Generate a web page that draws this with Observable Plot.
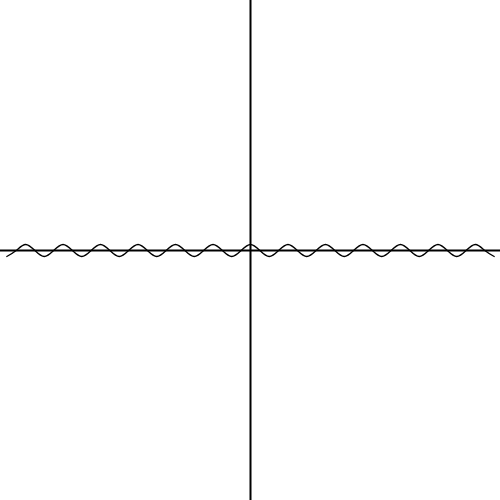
<!DOCTYPE html>
<html>
<head>
<meta charset="utf-8">
<script src="https://cdn.jsdelivr.net/npm/d3@7"></script>
<script src="https://cdn.jsdelivr.net/npm/@observablehq/plot@0.6"></script>
<style>
  html, body { margin: 0; padding: 0; background: #fff; }
  #chart svg { display: block; }
</style>
</head>
<body>
<div id="chart"></div>
<script>
// Wave samples (peaks, zero crossings, troughs)
const waveX = [-26,-25,-24,-23,-22,-21,-20,-19,-18,-17,-16,-15,-14,-13,-12,-11,-10,-9,-8,-7,-6,-5,-4,-3,-2,-1,0,1,2,3,4,5,6,7,8,9,10,11,12,13,14,15,16,17,18,19,20,21,22,23,24,25,26];
const waveY = [-1,0,1,0,-1,0,1,0,-1,0,1,0,-1,0,1,0,-1,0,1,0,-1,0,1,0,-1,0,1,0,-1,0,1,0,-1,0,1,0,-1,0,1,0,-1,0,1,0,-1,0,1,0,-1,0,1,0,-1];
const wave = waveX.map((x, i) => ({x, y: waveY[i]}));

const chart = Plot.plot({
  width: 500,
  height: 500,
  margin: 0,
  x: {domain: [-26.67, 26.67], axis: null},
  y: {domain: [-41.67, 41.67], axis: null},
  marks: [
    Plot.ruleY([0], {stroke: "black", strokeWidth: 2}),
    Plot.ruleX([0], {stroke: "black", strokeWidth: 2}),
    Plot.line(wave, {x: "x", y: "y", curve: "natural", stroke: "black", strokeWidth: 1.3})
  ]
});
document.getElementById("chart").appendChild(chart);
</script>
</body>
</html>
